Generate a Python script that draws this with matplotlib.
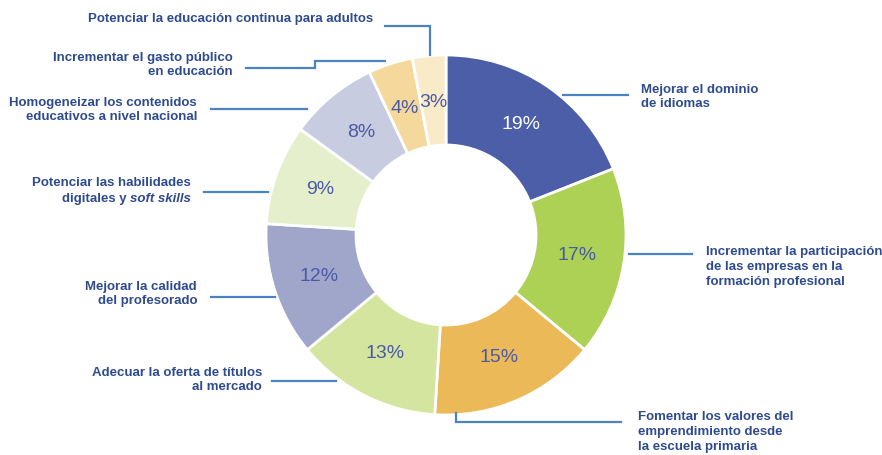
import matplotlib
matplotlib.use("Agg")
from matplotlib import pyplot as plt

plt.rcParams['font.family'] = ['Liberation Sans', 'DejaVu Sans']

#%% Data
categories = ["Mejorar el dominio\nde idiomas",
              "Incrementar la participación\nde las empresas en la\nformación profesional",
              "Fomentar los valores del\nemprendimiento desde\nla escuela primaria",
              "Adecuar la oferta de títulos\nal mercado",
              "Mejorar la calidad\ndel profesorado",
              "Potenciar las habilidades\ndigitales y |soft skills",
              "Homogeneizar los contenidos\neducativos a nivel nacional",
              "Incrementar el gasto público\nen educación",
              "Potenciar la educación continua para adultos"]
values = [19, 17, 15, 13, 12, 9, 8, 4, 3]
colors = ['#4b5ea7', '#acd155', '#ecb958', '#d3e59f', '#a0a6ca',
          '#e5efcc', '#c8cce1', '#f4d89c', '#f9eac8']

W, H = 882, 455
txt_col = '#2f4b8f'
line_col = '#4a82c3'

def Y(y):
    # pixel row -> data y
    return H - y

fig = plt.figure(figsize=(W / 100, H / 100), dpi=100)
ax = fig.add_axes([0, 0, 1, 1])

wedges, _, pcts = ax.pie(values, colors=colors, startangle=90, counterclock=False,
                         center=(446, Y(235)), radius=180,
                         autopct=lambda p: f'{p:.0f}%', pctdistance=0.74,
                         wedgeprops=dict(width=90, edgecolor='white', linewidth=2),
                         textprops=dict(fontsize=14, color='#4a5aa6'))
pcts[0].set_color('white')

ax.set_xlim(0, W)
ax.set_ylim(0, H)
ax.set_aspect('equal')
ax.axis('off')

# label positions (x, y center, alignment) and leader lines
label_pos = [(641, 97, 'left'), (706, 267, 'left'), (638, 432, 'left'),
             (262, 380, 'right'), (197, 294, 'right'), (191, 191, 'right'),
             (197, 110, 'right'), (233, 65, 'right'), (373, 19, 'right')]
leaders = [[(563, 95), (628, 95)],
           [(629, 254), (692, 254)],
           [(456, 413), (456, 422), (621, 422)],
           [(272, 381), (336, 381)],
           [(211, 297), (275, 297)],
           [(204, 192), (268, 192)],
           [(211, 109), (307, 109)],
           [(246, 68), (315, 68), (315, 61), (385, 61)],
           [(385, 26), (430, 26), (430, 55)]]

style = dict(fontsize=9.5, fontweight='bold', color=txt_col)
renderer = fig.canvas.get_renderer()
for lab, (x, y, ha), pts in zip(categories, label_pos, leaders):
    if '|' in lab:
        # second line has an italic part
        plain, ital = lab.split('|')
        first, second = plain.split('\n')
        ax.text(x, Y(y - 8), first, ha=ha, va='center', **style)
        t_it = ax.text(x, Y(y + 8), ital, ha=ha, va='center', style='italic', **style)
        bb = t_it.get_window_extent(renderer)
        x_left = ax.transData.inverted().transform((bb.x0, bb.y0))[0]
        ax.text(x_left, Y(y + 8), second, ha='right', va='center', **style)
    else:
        ax.text(x, Y(y), lab, ha=ha, va='center', linespacing=1.3, **style)
    xs = [p[0] for p in pts]
    ys = [Y(p[1]) for p in pts]
    ax.plot(xs, ys, color=line_col, lw=1.6, solid_joinstyle='miter')

fig.savefig('out.png', dpi=100)
